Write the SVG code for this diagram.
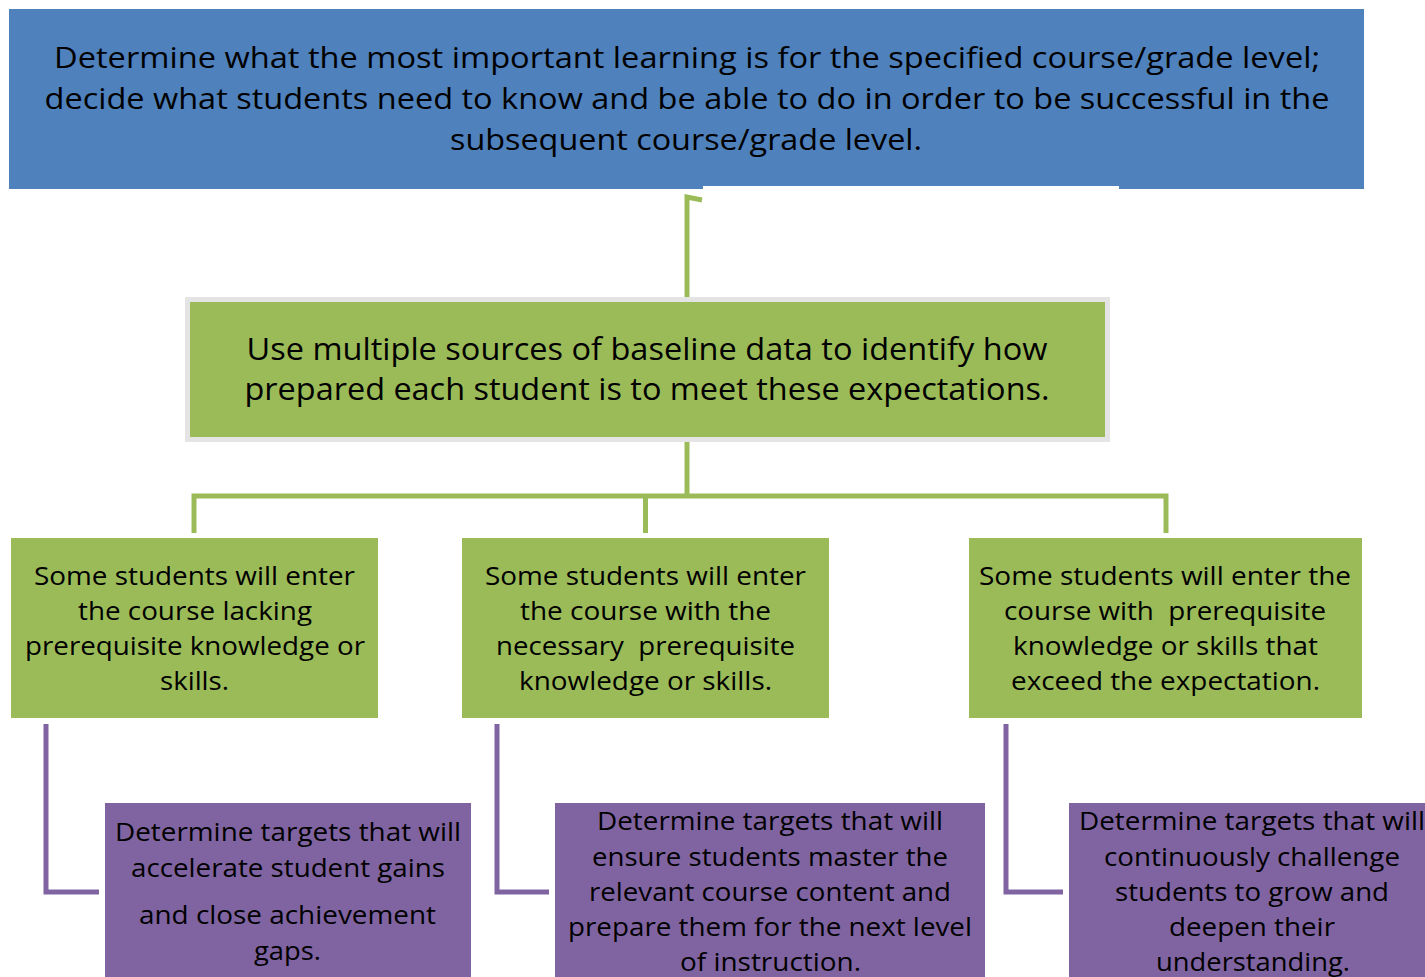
<svg xmlns="http://www.w3.org/2000/svg" width="1425" height="977" viewBox="0 0 1425 977">
<style>
text{font-family:"Open Sans","Noto Sans","Liberation Sans",sans-serif;fill:#000;text-anchor:middle;white-space:pre}
.t{font-size:30px}
.m{font-size:31px}
.s{font-size:26px}
.blue{fill:#4F81BD}
.green{fill:#9BBB59}
.purple{fill:#8064A2}
.gl{fill:none;stroke:#9BBB59;stroke-width:5}
.pl{fill:none;stroke:#8064A2;stroke-width:5}
</style>
<rect x="0" y="0" width="1425" height="977" fill="#fff"/>
<g id="top">
<rect class="blue" x="9" y="9" width="1355" height="180"/>
<text class="t" x="687" y="68" textLength="1266" lengthAdjust="spacingAndGlyphs">Determine what the most important learning is for the specified course/grade level;</text>
<text class="t" x="687" y="109" textLength="1285" lengthAdjust="spacingAndGlyphs">decide what students need to know and be able to do in order to be successful in the</text>
<text class="t" x="686" y="150" textLength="472" lengthAdjust="spacingAndGlyphs">subsequent course/grade level.</text>
</g>
<rect x="703" y="186" width="416" height="111" fill="#fff"/>
<g id="connectors">
<polyline class="gl" points="687,297 687,197 702,200"/>
<polyline class="gl" points="687,442 687,496"/>
<polyline class="gl" points="194,533 194,496 1166,496 1166,533"/>
<polyline class="gl" points="645.5,496 645.5,533"/>
<polyline class="pl" points="46,724 46,892 99,892"/>
<polyline class="pl" points="497,724 497,892 549,892"/>
<polyline class="pl" points="1006,724 1006,892 1063,892"/>
</g>
<g id="middle">
<rect x="187.5" y="299.5" width="920" height="140" fill="#9BBB59" stroke="#E4E4E4" stroke-width="5"/>
<text class="m" x="647" y="360" textLength="801" lengthAdjust="spacingAndGlyphs">Use multiple sources of baseline data to identify how</text>
<text class="m" x="647" y="400" textLength="805" lengthAdjust="spacingAndGlyphs">prepared each student is to meet these expectations.</text>
</g>
<g id="lacking">
<rect class="green" x="11" y="538" width="367" height="180"/>
<text class="s" x="194.5" y="585" textLength="321" lengthAdjust="spacingAndGlyphs">Some students will enter</text>
<text class="s" x="195" y="620" textLength="234" lengthAdjust="spacingAndGlyphs">the course lacking</text>
<text class="s" x="195" y="655" textLength="340" lengthAdjust="spacingAndGlyphs">prerequisite knowledge or</text>
<text class="s" x="194.5" y="690" textLength="69" lengthAdjust="spacingAndGlyphs">skills.</text>
</g>
<g id="necessary">
<rect class="green" x="462" y="538" width="367" height="180"/>
<text class="s" x="645.5" y="585" textLength="321" lengthAdjust="spacingAndGlyphs">Some students will enter</text>
<text class="s" x="645.5" y="620" textLength="251" lengthAdjust="spacingAndGlyphs">the course with the</text>
<text class="s" x="645.5" y="655" textLength="299" lengthAdjust="spacingAndGlyphs" xml:space="preserve">necessary  prerequisite</text>
<text class="s" x="645.5" y="690" textLength="253" lengthAdjust="spacingAndGlyphs">knowledge or skills.</text>
</g>
<g id="exceed">
<rect class="green" x="969" y="538" width="393" height="180"/>
<text class="s" x="1165" y="585" textLength="372" lengthAdjust="spacingAndGlyphs">Some students will enter the</text>
<text class="s" x="1165" y="620" textLength="322" lengthAdjust="spacingAndGlyphs" xml:space="preserve">course with  prerequisite</text>
<text class="s" x="1165.5" y="655" textLength="305" lengthAdjust="spacingAndGlyphs">knowledge or skills that</text>
<text class="s" x="1165.5" y="690" textLength="309" lengthAdjust="spacingAndGlyphs">exceed the expectation.</text>
</g>
<g id="accelerate">
<rect class="purple" x="105" y="803" width="366" height="180"/>
<text class="s" x="288" y="841" textLength="346" lengthAdjust="spacingAndGlyphs">Determine targets that will</text>
<text class="s" x="288" y="877" textLength="314" lengthAdjust="spacingAndGlyphs">accelerate student gains</text>
<text class="s" x="287.5" y="924" textLength="297" lengthAdjust="spacingAndGlyphs">and close achievement</text>
<text class="s" x="287.5" y="960" textLength="67" lengthAdjust="spacingAndGlyphs">gaps.</text>
</g>
<g id="master">
<rect class="purple" x="555" y="803" width="430" height="180"/>
<text class="s" x="770" y="830" textLength="346" lengthAdjust="spacingAndGlyphs">Determine targets that will</text>
<text class="s" x="770" y="866" textLength="356" lengthAdjust="spacingAndGlyphs">ensure students master the</text>
<text class="s" x="770" y="901" textLength="362" lengthAdjust="spacingAndGlyphs">relevant course content and</text>
<text class="s" x="770" y="936" textLength="404" lengthAdjust="spacingAndGlyphs">prepare them for the next level</text>
<text class="s" x="770.5" y="971" textLength="181" lengthAdjust="spacingAndGlyphs">of instruction.</text>
</g>
<g id="challenge">
<rect class="purple" x="1069" y="803" width="370" height="180"/>
<text class="s" x="1252" y="830" textLength="346" lengthAdjust="spacingAndGlyphs">Determine targets that will</text>
<text class="s" x="1252" y="866" textLength="296" lengthAdjust="spacingAndGlyphs">continuously challenge</text>
<text class="s" x="1252" y="901" textLength="274" lengthAdjust="spacingAndGlyphs">students to grow and</text>
<text class="s" x="1252" y="936" textLength="166" lengthAdjust="spacingAndGlyphs">deepen their</text>
<text class="s" x="1253" y="971" textLength="194" lengthAdjust="spacingAndGlyphs">understanding.</text>
</g>
</svg>
